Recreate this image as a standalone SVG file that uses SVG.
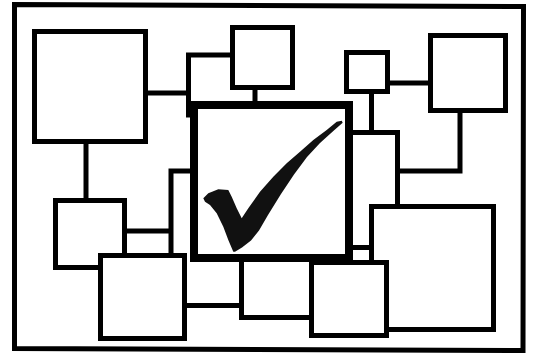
<svg xmlns="http://www.w3.org/2000/svg" width="533" height="356" viewBox="0 0 533 356">
<style>
.box{fill:#fff;stroke:#000;stroke-width:5;stroke-linejoin:miter}
.main{fill:#fff;stroke:#000;stroke-width:8}
.wire{fill:none;stroke:#000;stroke-width:5;stroke-linecap:square}
.frame{fill:#fff;stroke:#000;stroke-width:5}
</style>
<rect x="0" y="0" width="533" height="356" fill="#fff"/>
<polygon class="frame" points="14.5,4.5 523.5,6.5 523,350.5 14.5,348.5"/>
<g id="connectors">
<path class="wire" d="M148,93 H188.5"/>
<path class="wire" d="M232,55 H188.5 V115"/>
<path class="wire" d="M255,90 V104"/>
<path class="wire" d="M86,144 V198"/>
<path class="wire" d="M127,231 H171"/>
<path class="wire" d="M390,83 H430"/>
<path class="wire" d="M371.5,94 V131"/>
<path class="wire" d="M460,113 V171 H398"/>
</g>
<g id="node-l"><rect class="box" x="171" y="171" width="100" height="134.5"/></g>
<g id="node-f"><rect class="box" x="320" y="132.5" width="77.5" height="115"/></g>
<g id="node-g"><rect class="box" x="371.5" y="206.5" width="122" height="123"/></g>
<g id="node-i"><rect class="box" x="241.5" y="250" width="70" height="67.5"/></g>
<g id="node-e"><rect class="box" x="430.5" y="35.5" width="75" height="75"/></g>
<g id="node-d"><rect class="box" x="346.5" y="52.5" width="41" height="39"/></g>
<g id="node-b"><rect class="box" x="232.5" y="27.5" width="60" height="60"/></g>
<g id="node-a"><rect class="box" x="34.5" y="31.5" width="111" height="110"/></g>
<g id="node-k"><rect class="box" x="55.5" y="200.5" width="69" height="67"/></g>
<g id="node-j"><rect class="box" x="100.5" y="255.5" width="84" height="83"/></g>
<g id="node-h"><rect class="box" x="311.5" y="262.5" width="75" height="73"/></g>
<g id="node-c">
<rect class="main" x="194" y="105" width="155" height="153"/>
<polygon fill="#111" points="203.3,198.3 208.3,193.3 218.3,189.3 228.3,190 231.7,196.7 236.7,208.3 241.7,218.3 248.3,208.3 260,191.7 273.3,176.7 286.7,163.3 300,151.7 313.3,140 326.7,130 336.7,121.7 341.7,120.7 342.7,122.7 333.3,131 320,143 307,157 294,174.5 281,194 268,215 259,230.5 251,240.5 242,247.5 235,251.7 233.3,251.7 228.3,240 223.3,226.7 216.7,213.3 210,205 205,201.7"/>
</g>
</svg>
